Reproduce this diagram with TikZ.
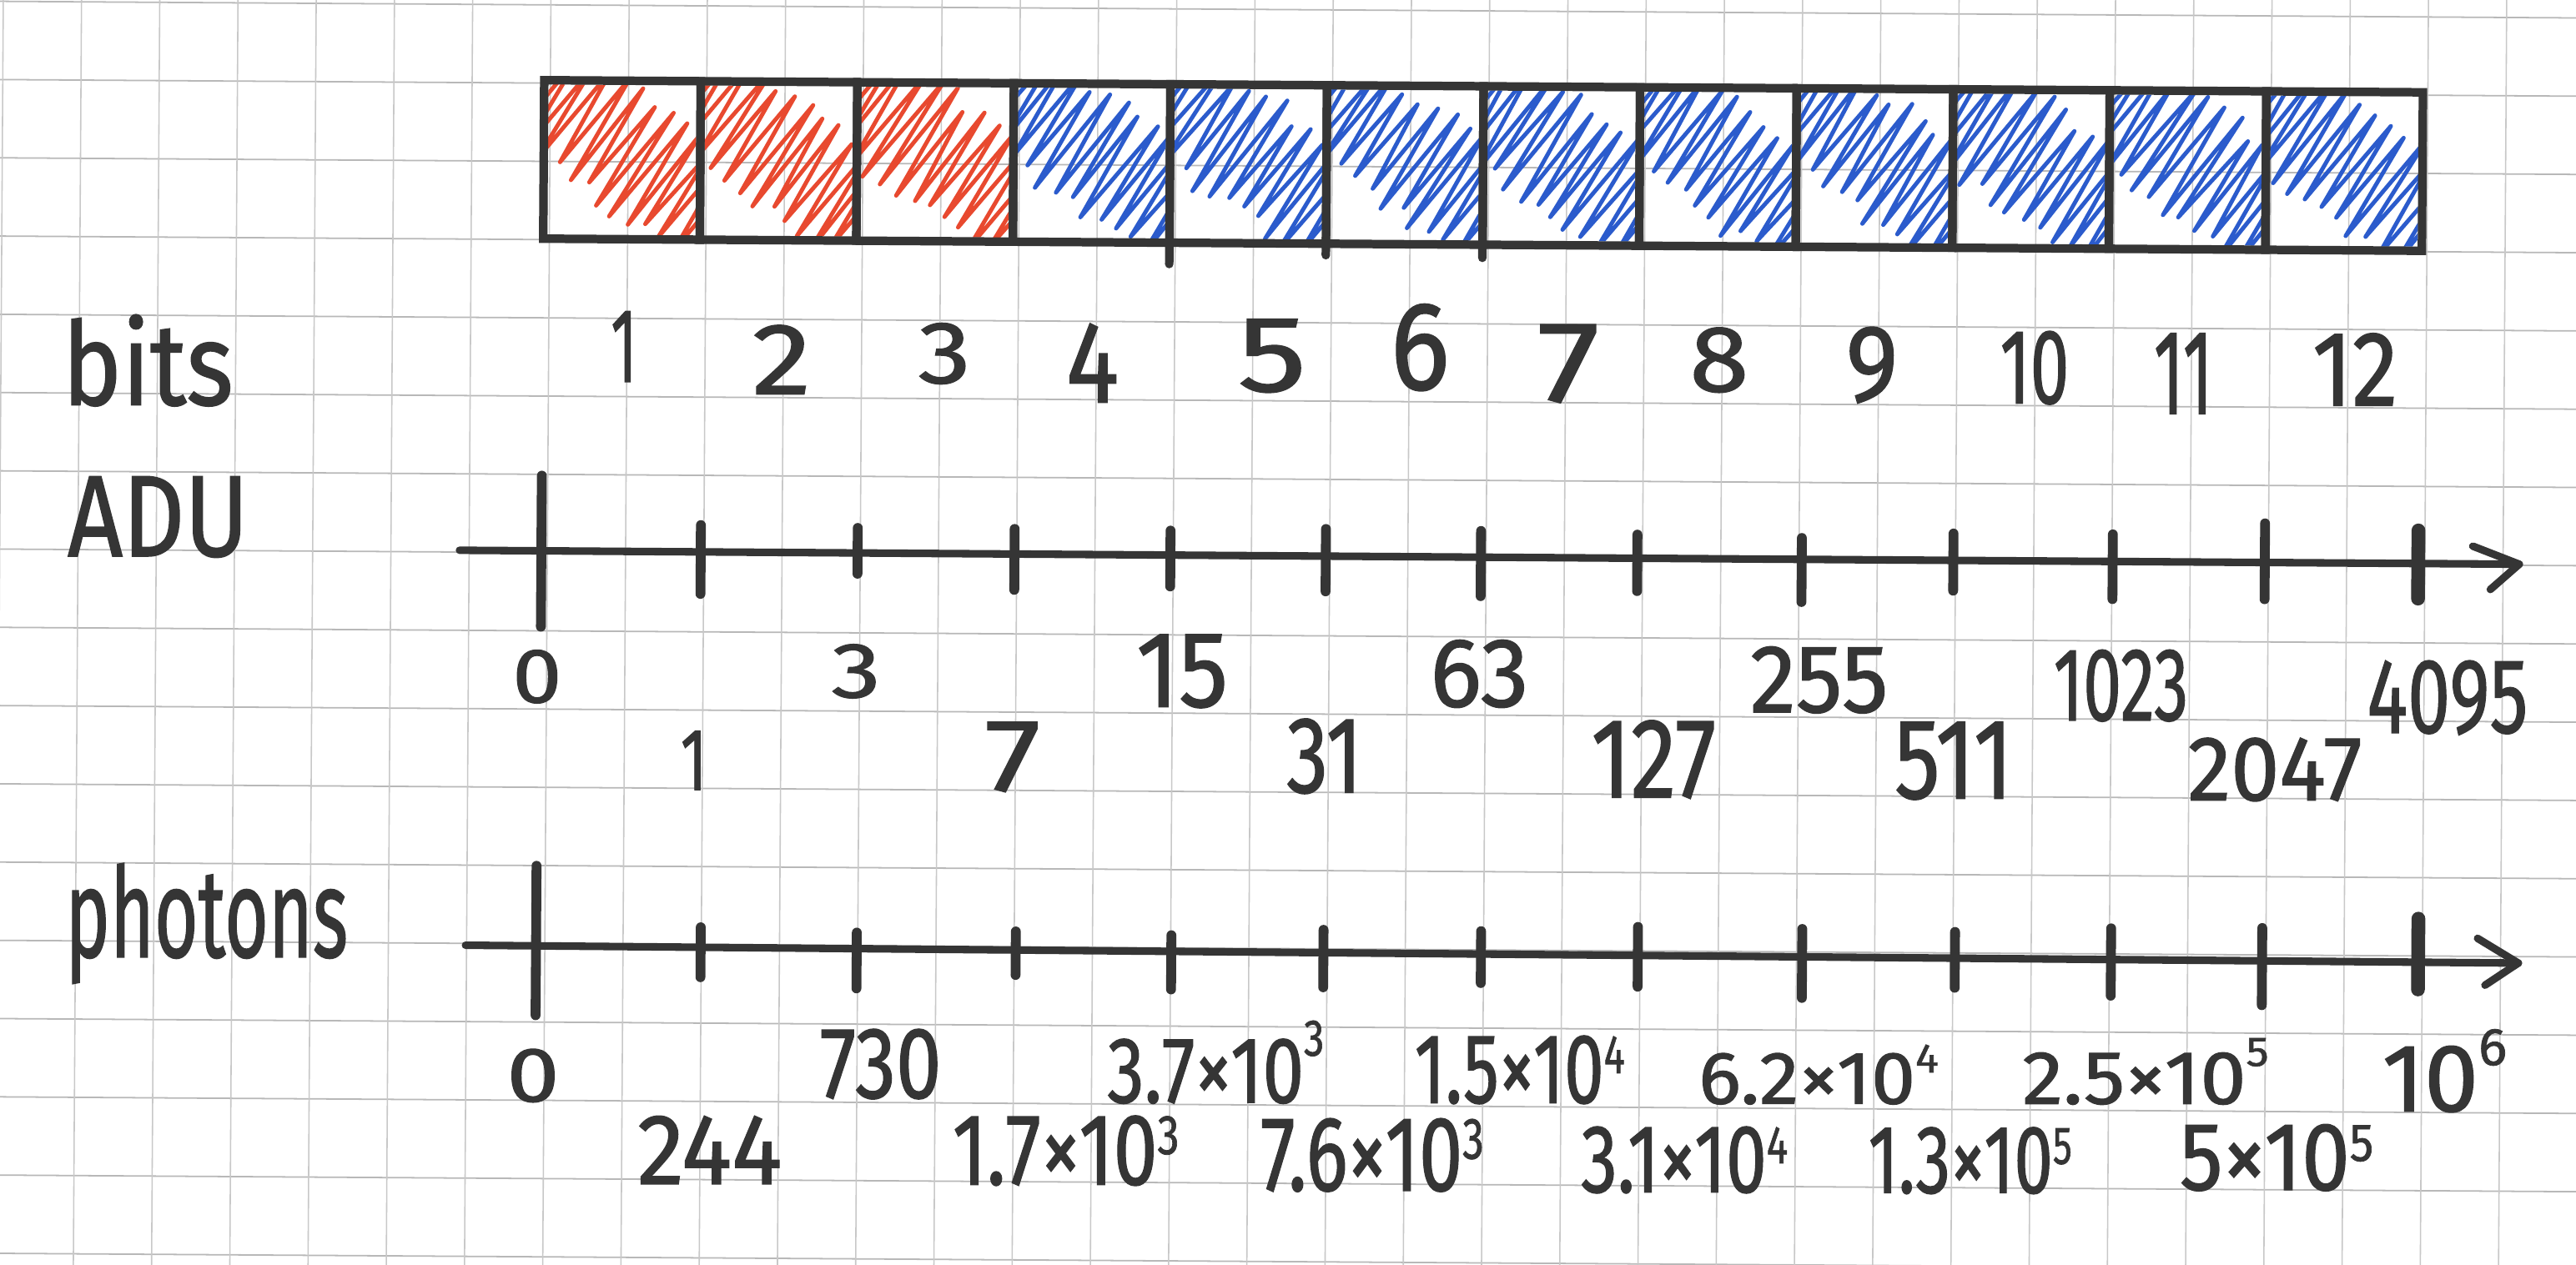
\documentclass[tikz,border=0pt]{standalone}
\usepackage{fontspec}
\setmainfont{Fira Sans}[FakeBold=1.2]
\usepackage{graphicx}
\newlength\pxu
\setlength\pxu{0.5pt}
\newcommand\hw[3]{\resizebox{#1\pxu}{#2\pxu}{#3}}
\newcommand\hwt[3]{\resizebox*{#1\pxu}{#2\pxu}{#3}}
\newcommand\sci[3][0.3em]{#2×10\raisebox{#1}{\scalebox{0.55}{#3}}}
\definecolor{ink}{HTML}{353535}
\definecolor{redpen}{HTML}{E8492F}
\definecolor{bluepen}{HTML}{2B5BCC}
\definecolor{gridh}{HTML}{B8B8B8}
\definecolor{gridv}{HTML}{C8C8C8}
\newcommand\scribble[4]{%
  \begin{scope}
    \clip (#1+2.5,#2+2.5) rectangle (#1+92.8,#2+94);
    \pgfmathsetseed{#4}
    \draw[#3,scrib] ({#1-19.5},{#2+35}) \foreach \j [evaluate=\j as \qa using 3+5.5*\j+1.5*rand, evaluate=\j as \qb using -40+67*isodd(\j)+6*rand] in {0,...,24} { -- ({#1+0.82*\qa+0.57*\qb},{#2+0.57*\qa-0.82*\qb}) };
  \end{scope}}
\begin{document}
\begin{tikzpicture}[x=0.5pt,y=-0.5pt,
  lab/.style={inner sep=0pt,outer sep=0pt,text=ink,font=\mdseries},
  bitbox/.style={draw=ink,line width=2.6pt,minimum width=47.65pt,minimum height=48.25pt,inner sep=0pt,outer sep=0pt,transform shape},
  scrib/.style={line width=1.25pt,line join=round,line cap=round},
  axisline/.style={draw=ink,line width=2.3pt,line cap=round,line join=round},
  tickline/.style={draw=ink,line width=3pt,line cap=round},
  boldtick/.style={draw=ink,line width=4.2pt,line cap=round},
  gridlineh/.style={draw=gridh,line width=0.45pt},
  gridlinev/.style={draw=gridv,line width=0.4pt}]
\useasboundingbox (0,0) rectangle (1568,770);
\fill[white] (0,0) rectangle (1568,770);
\begin{scope}
\clip (0,0) rectangle (1568,770);
\begin{scope}[rotate=-0.37]
% grid paper
\foreach \k in {-1,...,17} \draw[gridlineh] (-30,{0.8+47.65*\k}) -- (1620,{0.8+47.65*\k});
\foreach \k in {-1,...,34} \draw[gridlinev] ({2+47.62*\k},-40) -- ({2+47.62*\k},800);
% scribbles
\scribble{331.6}{46.7}{redpen}{11}
\scribble{426.9}{46.7}{redpen}{23}
\scribble{522.2}{46.7}{redpen}{37}
\scribble{617.5}{46.7}{bluepen}{41}
\scribble{712.8}{46.7}{bluepen}{53}
\scribble{808.1}{46.7}{bluepen}{67}
\scribble{903.4}{46.7}{bluepen}{71}
\scribble{998.7}{46.7}{bluepen}{83}
\scribble{1094.0}{46.7}{bluepen}{97}
\scribble{1189.3}{46.7}{bluepen}{101}
\scribble{1284.6}{46.7}{bluepen}{113}
\scribble{1379.9}{46.7}{bluepen}{127}
% bit boxes
\node[bitbox] (box1) at (379.25,94.95) {};
\node[bitbox] (box2) at (474.55,94.95) {};
\node[bitbox] (box3) at (569.85,94.95) {};
\node[bitbox] (box4) at (665.15,94.95) {};
\node[bitbox] (box5) at (760.45,94.95) {};
\node[bitbox] (box6) at (855.75,94.95) {};
\node[bitbox] (box7) at (951.05,94.95) {};
\node[bitbox] (box8) at (1046.35,94.95) {};
\node[bitbox] (box9) at (1141.65,94.95) {};
\node[bitbox] (box10) at (1236.95,94.95) {};
\node[bitbox] (box11) at (1332.25,94.95) {};
\node[bitbox] (box12) at (1427.55,94.95) {};
\draw[ink,line width=2.6pt,line cap=round] (box4.south east) -- ++(0,13);
\draw[ink,line width=2.6pt,line cap=round] (box5.south east) -- ++(0,7);
\draw[ink,line width=2.6pt,line cap=round] (box6.south east) -- ++(0,8);
% row titles
\node[lab] (tbits) at (91.4,218.9) {\hw{104}{55}{bits}};
\node[lab] (tadu) at (98.2,314.2) {\hw{110}{48.5}{ADU}};
\node[lab] (tphot) at (129.4,561.5) {\hwt{172}{73.4}{photons}};
% bit numbers
\node[lab] (bit1) at (381.2,208.6) {\hw{16}{43}{1}};
\node[lab] (bit2) at (477.2,215.9) {\hw{36}{42}{2}};
\node[lab] (bit3) at (576.3,211.6) {\hw{32}{36.6}{3}};
\node[lab] (bit4) at (666.4,216.7) {\hw{32}{48}{4}};
\node[lab] (bit5) at (775.7,211.7) {\hw{42}{44}{5}};
\node[lab] (bit6) at (865.7,206) {\hw{36}{52}{6}};
\node[lab] (bit7) at (956.2,215.3) {\hw{38}{47}{7}};
\node[lab] (bit8) at (1047.9,212.5) {\hw{36}{39}{8}};
\node[lab] (bit9) at (1140.9,215) {\hw{32}{45}{9}};
\node[lab] (bit10) at (1239.9,216) {\hw{42}{44}{10}};
\node[lab] (bit11) at (1330.5,218.9) {\hw{36}{49}{11}};
\node[lab] (bit12) at (1435,215.7) {\hw{52}{44}{12}};
% ADU axis
\coordinate (adu0) at (281.9,333.3);
\coordinate (adutip) at (1535.8,333.7);
\draw[axisline] (adu0) -- (adutip);
\draw[axisline] (adutip) ++(-28.3,-10.8) -- (adutip) -- ++(-17.5,15.5);
\foreach \x/\a/\b in {331.7/-46/46, 428.7/-16.5/25.4, 524.2/-15.4/12.5, 619.7/-15.4/21.7, 714.6/-15/19, 809.2/-16.6/21.4, 903.6/-16/23.7, 998.8/-14.4/20, 1098.9/-13/26, 1191.2/-16.3/18.5, 1288.2/-16.4/23, 1380.8/-23.7/22.5}
  \draw[tickline] (\x,{333.5+\a}) -- (\x,{333.5+\b});
\draw[boldtick] (1474.2,313.5) -- (1474.2,355);
% ADU labels
\node[lab] (a0) at (329.6,409.9) {\hw{30}{32}{0}};
\node[lab] (a1) at (425.3,460.3) {\hw{16}{36}{1}};
\node[lab] (a3) at (523.7,405.4) {\hw{30}{32.4}{3}};
\node[lab] (a7) at (619.4,457) {\hw{34}{42}{7}};
\node[lab] (a15) at (722.2,404.1) {\hw{56}{44}{15}};
\node[lab] (a31) at (809.1,455.3) {\hw{46}{45}{31}};
\node[lab] (a63) at (903.2,404.5) {\hw{60}{40.6}{63}};
\node[lab] (a127) at (1009.5,456) {\hw{76}{47}{127}};
\node[lab] (a255) at (1110,406.9) {\hw{84}{40}{255}};
\node[lab] (a511) at (1192.2,455.6) {\hw{72}{46.6}{511}};
\node[lab] (a1023) at (1293.7,409.2) {\hw{82}{43}{1023}};
\node[lab] (a2047) at (1387.8,459.7) {\hw{106}{38}{2047}};
\node[lab] (a4095) at (1492.5,415.3) {\hw{98}{44}{4095}};
% photons axis
\coordinate (ph0) at (287.1,573.8);
\coordinate (phtip) at (1536.8,576.6);
\draw[axisline] (ph0) -- (phtip);
\draw[axisline] (phtip) ++(-24.9,-14.9) -- (phtip) -- ++(-20.2,13.6);
\foreach \x/\y/\a/\b in {330/574.1/-49/42, 430.2/574.3/-12.4/18, 525.2/574.5/-10/24, 622/574.7/-11.5/15, 716.7/574.9/-10/23, 809.3/575/-14/21, 905.2/575.2/-14/17.6, 1000.7/575.4/-17.4/19, 1100.7/575.6/-17/25, 1193.7/575.8/-16/18, 1288.7/576/-19/22, 1380.7/576.2/-20/27}
  \draw[tickline] (\x,{\y+\a}) -- (\x,{\y+\b});
\draw[boldtick] (1475.7,549.9) -- (1475.7,593);
% photon labels
\node[lab] (p0) at (328.7,652.9) {\hw{32}{32}{0}};
\node[lab] (p1) at (436.5,697.5) {\hw{88}{41.5}{244}};
\node[lab] (p2) at (540.2,644.5) {\hw{74}{42}{730}};
\node[lab] (p3) at (653.3,696.5) {\hw{138}{42}{\sci{1.7}{3}}};
\node[lab] (p4) at (744.2,642) {\hw{132}{50}{\sci[0.5em]{3.7}{3}}};
\node[lab] (p5) at (839.8,698) {\hw{136}{44}{\sci{7.6}{3}}};
\node[lab] (p6) at (929.2,645.5) {\hw{128}{41}{\sci{1.5}{4}}};
\node[lab] (p7) at (1029.9,699.7) {\hw{126}{40}{\sci{3.1}{4}}};
\node[lab] (p8) at (1111.2,647.2) {\hw{146}{36}{\sci[0.42em]{6.2}{4}}};
\node[lab] (p9) at (1203.8,699) {\hw{124}{40}{\sci{1.3}{5}}};
\node[lab] (p10) at (1310.2,644) {\hw{150}{40}{\sci[0.5em]{2.5}{5}}};
\node[lab] (p11) at (1390.3,696) {\hw{118}{40}{\sci{5}{5}}};
\node[lab] (p12) at (1492.2,642.4) {\hw{76}{50}{10\raisebox{0.48em}{\scalebox{0.55}{6}}}};
\end{scope}
\end{scope}
\end{tikzpicture}
\end{document}
